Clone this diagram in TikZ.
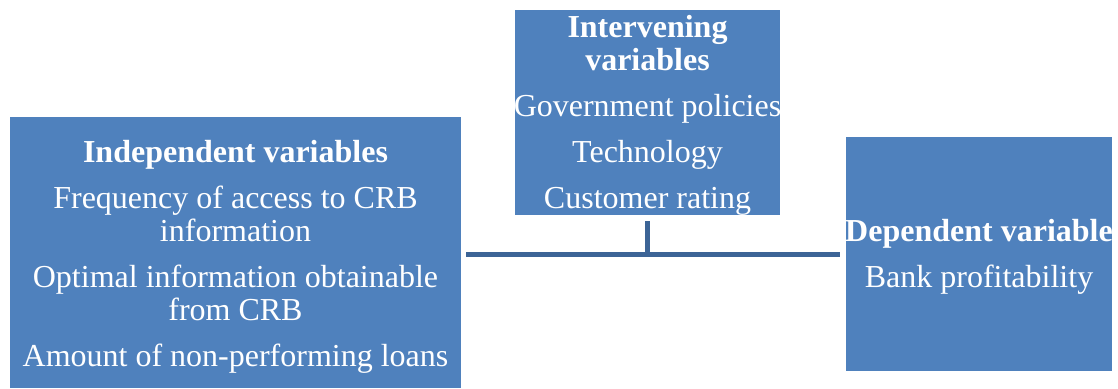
\documentclass[tikz,border=0pt]{standalone}
\usepackage{fontspec}
\setmainfont{Liberation Serif}
\definecolor{boxblue}{HTML}{4F81BD}
\definecolor{linkblue}{HTML}{3C6496}
\tikzset{
  varbox/.style={rectangle, fill=boxblue, draw=none, inner sep=0pt},
  vartext/.style={text=white, align=center, inner sep=0pt, anchor=north,
    font=\fontsize{32}{33}\selectfont},
  conn/.style={draw=linkblue, line width=5pt}
}
\begin{document}
\begin{tikzpicture}[x=1pt,y=-1pt]
\useasboundingbox (0,0) rectangle (1118,388);
% boxes
\node[varbox, minimum width=451pt, minimum height=271pt] (left) at (235.5,252.5) {};
\node[varbox, minimum width=265pt, minimum height=205pt] (mid) at (647.5,112.5) {};
\node[varbox, minimum width=266pt, minimum height=234pt] (right) at (979,254) {};
% texts
\node[vartext] (lefttext) at (235.5,140.5) {\textbf{Independent variables}\\[13pt]
  Frequency of access to CRB\\ information\\[13pt]
  Optimal information obtainable\\ from CRB\\[13pt]
  Amount of non-performing loans};
\node[vartext] (midtext) at (647.5,15.5) {\textbf{Intervening}\\ \textbf{variables}\\[13pt]
  Government policies\\[13pt]
  Technology\\[13pt]
  Customer rating};
\node[vartext] (righttext) at (979,219.5) {\textbf{Dependent variable}\\[13pt]
  Bank profitability};
% connectors
\coordinate (j) at (647.5,254.5);
\draw[conn, shorten <=5pt, shorten >=6pt] (left.east |- j) -- (right.west |- j);
\draw[conn, shorten <=6pt] (mid.south) -- (j);
\end{tikzpicture}
\end{document}
